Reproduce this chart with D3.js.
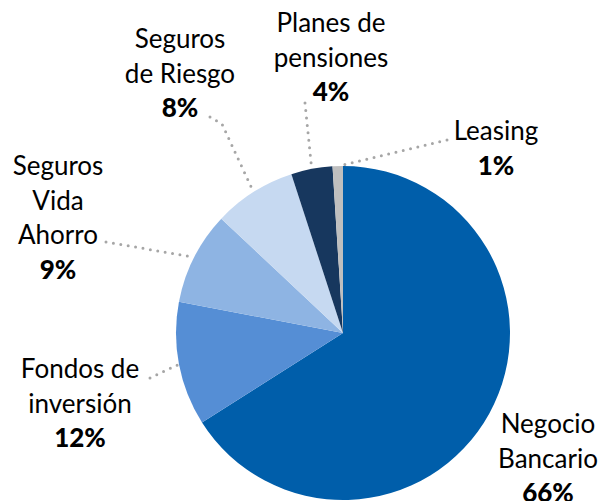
<!DOCTYPE html>
<html>
<head>
<meta charset="utf-8">
<script src="https://cdn.jsdelivr.net/npm/d3@7"></script>
<style>
  html, body { margin: 0; padding: 0; background: #fff; }
  svg { display: block; }
  text { font-family: Lato, "Open Sans", sans-serif; fill: #000; }
</style>
</head>
<body>
<svg id="chart" width="603" height="501"></svg>
<script>
// data
const categories = ['Negocio Bancario', 'Fondos de inversión', 'Seguros Vida Ahorro', 'Seguros de Riesgo', 'Planes de pensiones', 'Leasing']
const shares = [66, 12, 9, 8, 4, 1]
const labelLines = [
  ['Negocio', 'Bancario'],
  ['Fondos de', 'inversión'],
  ['Seguros', 'Vida', 'Ahorro'],
  ['Seguros', 'de Riesgo'],
  ['Planes de', 'pensiones'],
  ['Leasing']
]
const colors = ['#005eaa', '#558ed5', '#8eb4e3', '#c6d9f1', '#17375e', '#bfbfbf']

// layout: label block centre x, first baseline y, and leader start point
const labelLayout = [
  { x: 548, y: 433, leader: null },
  { x: 80, y: 378, leader: [[150, 378]] },
  { x: 58, y: 175, leader: [[106, 242]] },
  { x: 180, y: 48, leader: [[210, 117], [222, 124]] },
  { x: 331, y: 32, leader: [[305, 103]] },
  { x: 496, y: 140, leader: [[447, 140]] }
]

const cx = 343
const cy = 333
const radius = 167
const lineHeight = 34.5

const svg = d3.select('#chart')

const pie = d3.pie().sort(null).value((d) => d.value)
const arcs = pie(shares.map((v, i) => ({ value: v, i })))
const arc = d3.arc().innerRadius(0).outerRadius(radius)

const g = svg.append('g').attr('transform', `translate(${cx},${cy})`)

g.selectAll('path.slice')
  .data(arcs)
  .enter()
  .append('path')
  .attr('class', 'slice')
  .attr('d', arc)
  .attr('fill', (d) => colors[d.data.i])

// leader lines: from label to the outer edge at the slice's mid angle
const edgePoint = (d) => {
  const a = (d.startAngle + d.endAngle) / 2
  return [cx + radius * Math.sin(a), cy - radius * Math.cos(a)]
}

arcs.forEach((d) => {
  const lay = labelLayout[d.data.i]
  if (!lay.leader) return
  const pts = lay.leader.concat([edgePoint(d)])
  svg.append('path')
    .attr('d', d3.line()(pts))
    .attr('fill', 'none')
    .attr('stroke', '#a6a6a6')
    .attr('stroke-width', 3)
    .attr('stroke-linecap', 'round')
    .attr('stroke-dasharray', '0 7.5')
})

// labels
categories.forEach((c, i) => {
  const lay = labelLayout[i]
  const t = svg.append('text')
    .attr('text-anchor', 'middle')
    .attr('font-size', 26)
  labelLines[i].forEach((ln, k) => {
    t.append('tspan')
      .attr('x', lay.x)
      .attr('y', lay.y + k * lineHeight)
      .text(ln)
  })
  t.append('tspan')
    .attr('x', lay.x)
    .attr('y', lay.y + labelLines[i].length * lineHeight)
    .attr('font-weight', 900)
    .text(shares[i] + '%')
})
</script>
</body>
</html>
